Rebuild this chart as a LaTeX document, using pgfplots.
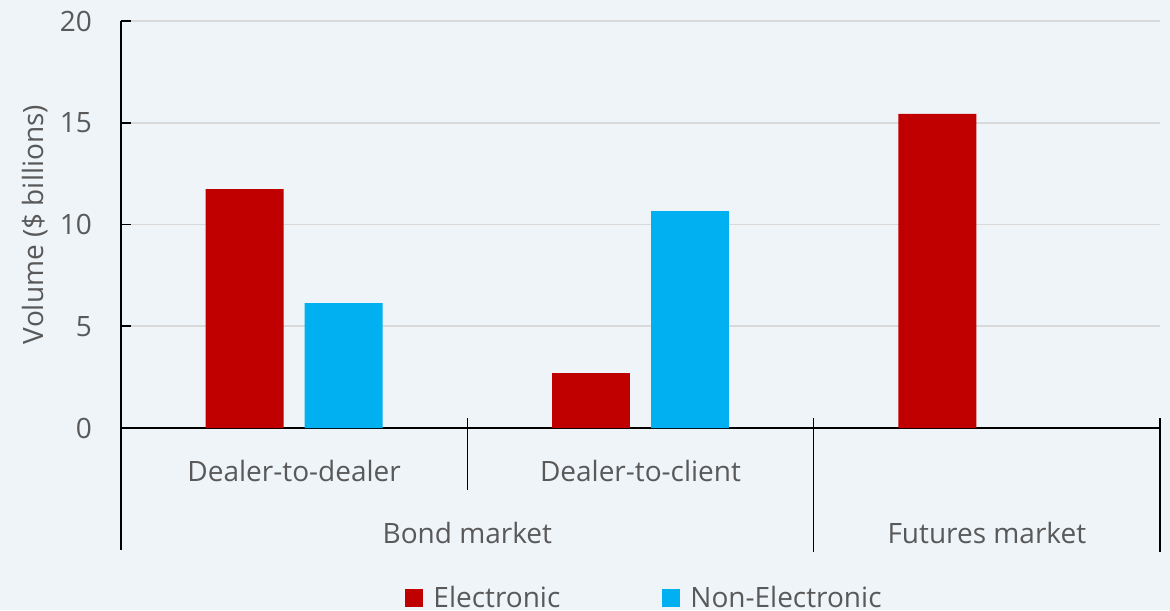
\documentclass[border=0pt]{standalone}
\usepackage{fontspec}
\setmainfont{Open Sans}
\usepackage{pgfplots}
\pgfplotsset{compat=1.18}
\definecolor{bg}{HTML}{EFF4F9}
\definecolor{elec}{HTML}{C00000}
\definecolor{nonelec}{HTML}{00B0F0}
\definecolor{txt}{HTML}{595959}
\definecolor{gridc}{HTML}{D9D9D9}
\begin{document}
\begin{tikzpicture}[font=\fontsize{14}{17}\selectfont]
\path[use as bounding box, fill=bg] (-60.5pt,-91pt) rectangle (524.5pt,214pt);
\begin{axis}[
  at={(0,0)}, anchor=south west,
  scale only axis, width=519.5pt, height=203.5pt,
  xmin=0, xmax=3, ymin=0, ymax=20,
  axis lines*=left,
  axis line style={black, line width=0.8pt},
  clip=false,
  ytick={0,5,10,15,20},
  ymajorgrids, grid style={gridc, line width=0.8pt},
  tick align=inside, major tick length=5pt,
  ytick style={black, line width=0.8pt},
  xtick={0.5,1.5,2.5},
  xticklabels={Dealer-to-dealer,Dealer-to-client,{}},
  xtick style={draw=none},
  xticklabel style={anchor=base, yshift=-26.5pt, text=txt},
  extra x ticks={1,2.5},
  extra x tick labels={Bond market,Futures market},
  extra x tick style={grid=none, major tick length=0pt, tick style={draw=none},
    xticklabel style={yshift=-31pt}},
  yticklabel style={xshift=-11pt, text=txt},
  /pgf/number format/assume math mode=true,
  ylabel={Volume (\$ billions)},
  ylabel style={at={(axis description cs:-0.083,0.5)}, anchor=center, text=txt},
  legend style={at={(0.5,0)}, anchor=center, yshift=-85pt, xshift=2.5pt, draw=none, fill=none,
    legend columns=2, text=txt,
    /tikz/every even column/.append style={column sep=49pt}},
  legend image code/.code={\fill[#1] (0pt,-4.5pt) rectangle (9pt,4.5pt); \path (12pt,0pt);},
]
\addplot[ybar, fill=elec, draw=none, bar width=0.225, bar shift=-0.143]
  coordinates {(0.5,11.74) (1.5,2.70) (2.5,15.43)};
\addlegendentry{Electronic}
\addplot[ybar, fill=nonelec, draw=none, bar width=0.225, bar shift=0.143]
  coordinates {(0.5,6.14) (1.5,10.66)};
\addlegendentry{Non-Electronic}
\draw[black, line width=0.8pt] (axis cs:0,0) -- ([yshift=-61pt]axis cs:0,0);
\draw[black, line width=0.8pt] ([yshift=5pt]axis cs:1,0) -- ([yshift=-31pt]axis cs:1,0);
\draw[black, line width=0.8pt] ([yshift=5pt]axis cs:2,0) -- ([yshift=-62pt]axis cs:2,0);
\draw[black, line width=0.8pt] ([yshift=5pt]axis cs:3,0) -- ([yshift=-62pt]axis cs:3,0);
\end{axis}
\end{tikzpicture}
\end{document}
